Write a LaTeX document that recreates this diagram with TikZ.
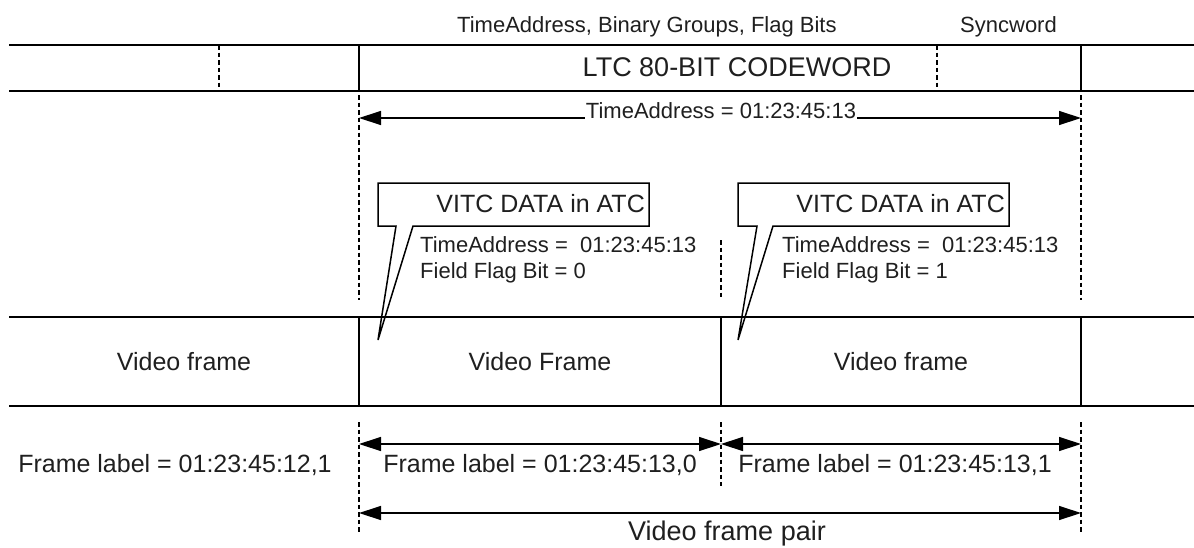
\documentclass[tikz,border=0pt]{standalone}
\usepackage{fontspec}
\setmainfont{Liberation Sans}
\usetikzlibrary{arrows.meta}
\begin{document}
\begin{tikzpicture}[x=1pt,y=-1pt,
  rule/.style={line width=1.6pt, line cap=rect},
  dashrule/.style={line width=1.2pt, dash pattern=on 4.5pt off 3pt},
  dimline/.style={line width=1.3pt, {Triangle[length=22pt,width=14pt]}-{Triangle[length=22pt,width=14pt]}},
  callout/.style={line width=1.5pt, line join=miter},
  smalltxt/.style={font=\fontsize{22}{26}\selectfont, inner sep=0pt, text=black!88},
  midtxt/.style={font=\fontsize{25}{30}\selectfont, inner sep=0pt, text=black!88},
  bigtxt/.style={font=\fontsize{27}{32}\selectfont, inner sep=0pt, text=black!88}]
\useasboundingbox (0,0) rectangle (1194,547);

% ---- LTC row ----
\coordinate (ltcTL) at (10,45);  \coordinate (ltcTR) at (1194,45);
\coordinate (ltcBL) at (10,91);  \coordinate (ltcBR) at (1194,91);
\draw[rule] (ltcTL) -- (ltcTR);
\draw[rule] (ltcBL) -- (ltcBR);
\coordinate (a1) at (359,45); \coordinate (a2) at (359,91);
\coordinate (b1) at (1081,45); \coordinate (b2) at (1081,91);
\draw[rule] (a1) -- (a2);
\draw[rule] (b1) -- (b2);
\coordinate (d1) at (219,45); \coordinate (d2) at (219,91);
\coordinate (e1) at (937,45); \coordinate (e2) at (937,91);
\draw[dashrule] (d1) -- (d2);
\draw[dashrule] (e1) -- (e2);

\node[smalltxt, anchor=base west] (hdr) at (457,32) {TimeAddress, Binary Groups, Flag Bits};
\node[smalltxt, anchor=base west] (sync) at (960,32) {Syncword};
\node[bigtxt, anchor=center] (ltc) at (737,67) {LTC 80-BIT CODEWORD};

% ---- upper dashed guides ----
\coordinate (g1t) at (359,95);  \coordinate (g1b) at (359,300);
\coordinate (g2t) at (721,240); \coordinate (g2b) at (721,300);
\coordinate (g3t) at (1081,95); \coordinate (g3b) at (1081,300);
\draw[dashrule] (g1t) -- (g1b);
\draw[dashrule] (g2t) -- (g2b);
\draw[dashrule] (g3t) -- (g3b);

% ---- TimeAddress arrow ----
\coordinate (taL) at (359,118); \coordinate (taR) at (1081,118);
\draw[dimline] (taL) -- (taR);
\node[smalltxt, anchor=base, fill=white, inner xsep=1pt, inner ysep=2pt] (ta) at (721,118) {TimeAddress = 01:23:45:13};

% ---- callout 1 ----
\draw[callout] (396,226) -- (378,226) -- (378,183) -- (649,183) -- (649,226) -- (413,226) -- (378,340) -- cycle;
\node[midtxt, anchor=base east] (v1) at (645,212) {VITC DATA in ATC};
\node[smalltxt, anchor=base west] (v1a) at (420,252) {TimeAddress =\ \ 01:23:45:13};
\node[smalltxt, anchor=base west] (v1b) at (420,278) {Field Flag Bit = 0};

% ---- callout 2 ----
\draw[callout] (757,226) -- (738,226) -- (738,183) -- (1009,183) -- (1009,226) -- (773,226) -- (738,340) -- cycle;
\node[midtxt, anchor=base east] (v2) at (1005,212) {VITC DATA in ATC};
\node[smalltxt, anchor=base west] (v2a) at (782,252) {TimeAddress =\ \ 01:23:45:13};
\node[smalltxt, anchor=base west] (v2b) at (782,278) {Field Flag Bit = 1};

% ---- video frame row ----
\coordinate (vTL) at (10,317);  \coordinate (vTR) at (1194,317);
\coordinate (vBL) at (10,406);  \coordinate (vBR) at (1194,406);
\draw[rule] (vTL) -- (vTR);
\draw[rule] (vBL) -- (vBR);
\coordinate (s1t) at (359,317); \coordinate (s1b) at (359,406);
\coordinate (s2t) at (721,317); \coordinate (s2b) at (721,406);
\coordinate (s3t) at (1081,317); \coordinate (s3b) at (1081,406);
\draw[rule] (s1t) -- (s1b);
\draw[rule] (s2t) -- (s2b);
\draw[rule] (s3t) -- (s3b);
\node[midtxt] (vf0) at (184,362) {Video frame};
\node[midtxt] (vf1) at (540,362) {Video Frame};
\node[midtxt] (vf2) at (901,362) {Video frame};

% ---- lower dashed guides ----
\coordinate (h1t) at (359,422);  \coordinate (h1b) at (359,532);
\coordinate (h2t) at (721,422);  \coordinate (h2b) at (721,486);
\coordinate (h3t) at (1081,422); \coordinate (h3b) at (1081,532);
\draw[dashrule] (h1t) -- (h1b);
\draw[dashrule] (h2t) -- (h2b);
\draw[dashrule] (h3t) -- (h3b);

% ---- frame label arrows ----
\coordinate (f1L) at (359,444); \coordinate (f1R) at (721,444);
\coordinate (f2L) at (721,444); \coordinate (f2R) at (1081,444);
\draw[dimline] (f1L) -- (f1R);
\draw[dimline] (f2L) -- (f2R);
\node[midtxt, anchor=base] (fl0) at (175,472) {Frame label = 01:23:45:12,1};
\node[midtxt, anchor=base] (fl1) at (540,472) {Frame label = 01:23:45:13,0};
\node[midtxt, anchor=base] (fl2) at (895,472) {Frame label = 01:23:45:13,1};

% ---- frame pair arrow ----
\coordinate (pL) at (359,513); \coordinate (pR) at (1081,513);
\draw[dimline] (pL) -- (pR);
\node[bigtxt, anchor=base] (pair) at (727,540) {Video frame pair};
\end{tikzpicture}
\end{document}
